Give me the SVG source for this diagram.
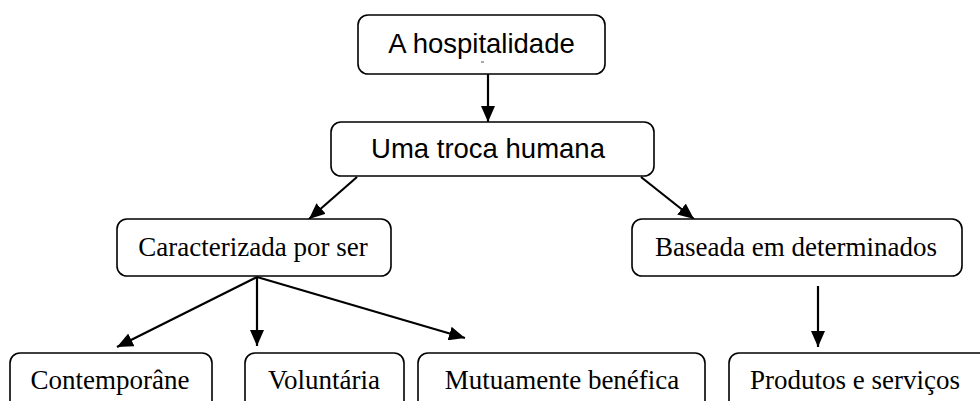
<svg xmlns="http://www.w3.org/2000/svg" width="980" height="401" viewBox="0 0 980 401">
<defs>
<style>
.box{fill:#fff;stroke:#000;stroke-width:1.6}
.sans{font-family:"Liberation Sans",Arial,sans-serif;font-size:27.5px;fill:#000}
.serif{font-family:"Liberation Serif","Times New Roman",serif;font-size:27px;fill:#000}
.conn line{stroke:#000;stroke-width:2.2}
</style>
<marker id="ah" markerWidth="16" markerHeight="14" refX="16" refY="7" orient="auto" markerUnits="userSpaceOnUse">
<path d="M0,0 L16,7 L0,14 Z" fill="#000"/>
</marker>
</defs>
<rect width="980" height="401" fill="#fff"/>
<g class="conn">
<line x1="488" y1="74" x2="488" y2="122" marker-end="url(#ah)"/>
<line x1="357" y1="177" x2="309" y2="219" marker-end="url(#ah)"/>
<line x1="641" y1="177" x2="694" y2="219" marker-end="url(#ah)"/>
<line x1="257" y1="277" x2="117" y2="347" marker-end="url(#ah)"/>
<line x1="257" y1="277" x2="257" y2="346" marker-end="url(#ah)"/>
<line x1="257" y1="277" x2="465" y2="338" marker-end="url(#ah)"/>
<line x1="818" y1="286" x2="818" y2="347" marker-end="url(#ah)"/>
</g>
<g id="n1"><rect class="box" x="358" y="15" width="247" height="59" rx="10"/><text class="sans" x="481.5" y="53" text-anchor="middle">A hospitalidade</text><line x1="481" y1="62" x2="484" y2="62" stroke="#555" stroke-width="1"/></g>
<g id="n2"><rect class="box" x="331" y="122" width="323" height="54" rx="10"/><text class="sans" x="488" y="158" text-anchor="middle">Uma troca humana</text></g>
<g id="n3"><rect class="box" x="117" y="219" width="274" height="57" rx="10"/><text class="serif" x="253" y="256" text-anchor="middle">Caracterizada por ser</text></g>
<g id="n4"><rect class="box" x="632" y="219" width="330" height="57" rx="10"/><text class="serif" x="796" y="256" text-anchor="middle">Baseada em determinados</text></g>
<g id="n5"><rect class="box" x="10" y="353" width="202" height="70" rx="10"/><text class="serif" x="110" y="389" text-anchor="middle">Contemporâne</text></g>
<g id="n6"><rect class="box" x="245" y="353" width="159" height="70" rx="10"/><text class="serif" x="324" y="389" text-anchor="middle">Voluntária</text></g>
<g id="n7"><rect class="box" x="418" y="353" width="287" height="70" rx="10"/><text class="serif" x="562" y="389" text-anchor="middle">Mutuamente benéfica</text></g>
<g id="n8"><rect class="box" x="729" y="353" width="280" height="70" rx="10"/><text class="serif" x="855" y="389" text-anchor="middle">Produtos e serviços</text></g>
</svg>
